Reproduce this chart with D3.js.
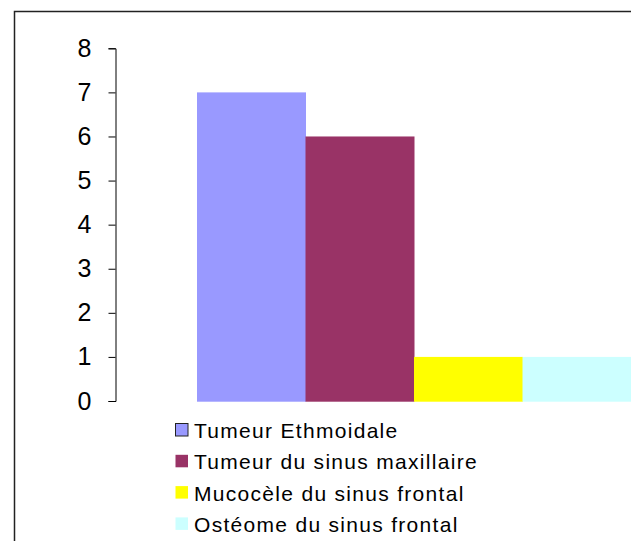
<!DOCTYPE html>
<html>
<head>
<meta charset="utf-8">
<script src="https://cdn.jsdelivr.net/npm/d3@7"></script>
<style>
  html, body { margin: 0; padding: 0; background: #fff; }
  svg { display: block; }
  text { font-family: "Liberation Sans", Arial, sans-serif; fill: #000; }
</style>
</head>
<body>
<svg id="chart" width="631" height="541"></svg>
<script>
// Series (one category, four tumour types)
const seriesNames = [
  "Tumeur Ethmoidale",
  "Tumeur du sinus maxillaire",
  "Mucocèle du sinus frontal",
  "Ostéome du sinus frontal"
];
const seriesValues = [7, 6, 1, 1];
const seriesColors = ["#9999FF", "#993366", "#FFFF00", "#CCFFFF"];
const yTicks = [0, 1, 2, 3, 4, 5, 6, 7, 8];

const svg = d3.select("#chart");

// Outer chart frame
svg.append("rect")
  .attr("x", 14.5).attr("y", 11.5)
  .attr("width", 700).attr("height", 600)
  .attr("fill", "none")
  .attr("stroke", "#222")
  .attr("stroke-width", 1.5);

const y = d3.scaleLinear().domain([0, 8]).range([401, 48.3]);
const x = d3.scaleBand().domain(seriesNames).range([197, 631]).padding(0);

// Bars
svg.append("g").selectAll("rect")
  .data(seriesNames)
  .join("rect")
  .attr("x", d => x(d))
  .attr("y", (d, i) => y(seriesValues[i]))
  .attr("width", x.bandwidth() + 0.5)
  .attr("height", (d, i) => y(0) - y(seriesValues[i]) + 0.7)
  .attr("fill", (d, i) => seriesColors[i]);

// Y axis
const yAxis = svg.append("g")
  .attr("transform", "translate(115.5,0)")
  .call(d3.axisLeft(y).tickValues(yTicks).tickFormat(d3.format("d"))
    .tickSizeInner(7).tickSizeOuter(7).tickPadding(17));
yAxis.selectAll("path, line").attr("stroke", "#000").attr("stroke-width", 1);
yAxis.selectAll("text")
  .attr("font-size", 25)
  .attr("font-family", "'Liberation Sans', Arial, sans-serif")
  .attr("fill", "#000");

// Legend
const legend = svg.append("g").attr("transform", "translate(175,423)");
const rows = legend.selectAll("g")
  .data(seriesNames)
  .join("g")
  .attr("transform", (d, i) => `translate(0,${i * 31.3})`);
rows.append("rect")
  .attr("x", 0.5).attr("y", 0.5)
  .attr("width", 12.5).attr("height", 12.5)
  .attr("fill", (d, i) => seriesColors[i])
  .attr("stroke", (d, i) => i === 0 ? "#222" : "none")
  .attr("stroke-width", 1);
rows.append("text")
  .attr("x", 19)
  .attr("y", 15)
  .attr("font-size", 21)
  .attr("letter-spacing", 1.3)
  .text(d => d);
</script>
</body>
</html>
